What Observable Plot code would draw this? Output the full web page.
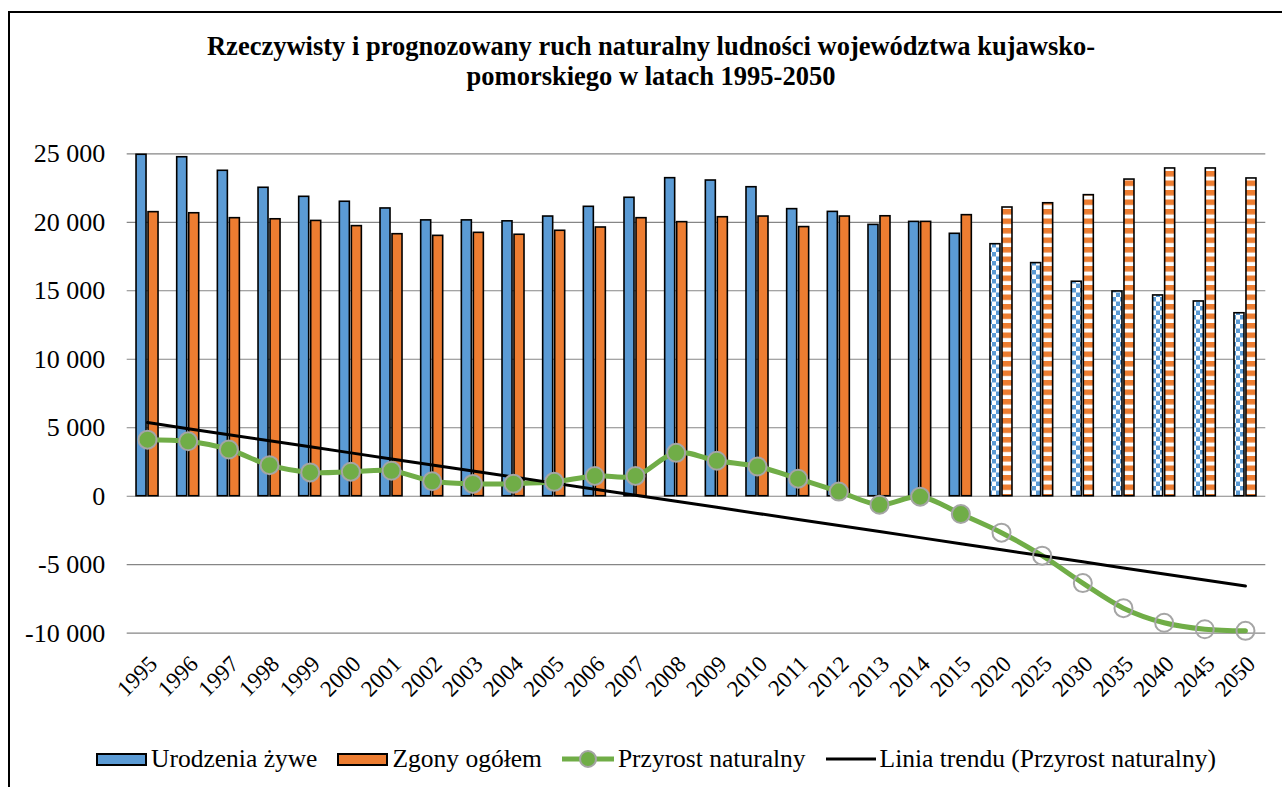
<!DOCTYPE html>
<html><head><meta charset="utf-8">
<script src="https://cdn.jsdelivr.net/npm/d3@7"></script>
<script src="https://cdn.jsdelivr.net/npm/@observablehq/plot@0.6"></script>
<style>
body{margin:0;background:#fff;font-family:"Liberation Serif","Times New Roman",serif;}
#wrap{position:relative;width:1282px;height:787px;overflow:hidden;background:#fff;}
#frame{position:absolute;left:8px;top:11px;width:1400px;height:900px;border:2px solid #000;box-sizing:border-box;}
#title{position:absolute;left:0;width:1302px;top:31px;text-align:center;font-weight:bold;font-size:26.5px;line-height:30px;color:#000;}
#chart{position:absolute;left:0;top:0;}
#legend{position:absolute;top:744px;left:0;width:1312px;display:flex;justify-content:center;align-items:center;font-size:25.5px;color:#000;}
.item{display:flex;align-items:center;margin:0 10px;}
.sw{width:51px;height:13px;border:2px solid #000;box-sizing:border-box;margin-right:4px;}
</style></head>
<body>
<div id="wrap">
  <div id="frame"></div>
  <div id="title">Rzeczywisty i prognozowany ruch naturalny ludności województwa kujawsko-<br>pomorskiego w latach 1995-2050</div>
  <div id="chart"></div>
  <div id="legend">
    <div class="item"><div class="sw" style="background:#5b9bd5"></div>Urodzenia żywe</div>
    <div class="item"><div class="sw" style="background:#ed7d31"></div>Zgony ogółem</div>
    <div class="item"><svg width="52" height="22" style="margin-right:4px"><line x1="0" y1="11" x2="52" y2="11" stroke="#70ad47" stroke-width="5"/><circle cx="26" cy="11" r="8" fill="#70ad47" stroke="#a5a5a5" stroke-width="2"/></svg>Przyrost naturalny</div>
    <div class="item"><svg width="50" height="22" style="margin-right:4px"><line x1="0" y1="11" x2="50" y2="11" stroke="#000" stroke-width="3"/></svg>Linia trendu (Przyrost naturalny)</div>
  </div>
</div>
<script>
const years = ["1995","1996","1997","1998","1999","2000","2001","2002","2003","2004","2005","2006","2007","2008","2009","2010","2011","2012","2013","2014","2015","2020","2025","2030","2035","2040","2045","2050"];
const births = [24930,24750,23760,22520,21860,21500,21010,20140,20140,20070,20420,21130,21790,23220,23050,22560,20960,20760,19810,20030,19160,18400,17020,15660,14950,14660,14220,13360];
const deaths = [20740,20660,20300,20220,20100,19720,19130,19010,19230,19090,19380,19620,20300,20010,20370,20420,19650,20420,20440,20030,20520,21080,21390,21980,23120,23930,23930,23200];
const growth = [4130,4010,3410,2270,1740,1790,1860,1090,900,920,1050,1480,1480,3170,2590,2170,1280,340,-620,-30,-1300,-2660,-4340,-6340,-8170,-9240,-9710,-9830];
const forecastYears = ["2020","2025","2030","2035","2040","2045","2050"];
const yTicks = [-10000,-5000,0,5000,10000,15000,20000,25000];
const yTickLabels = ["-10 000","-5 000","0","5 000","10 000","15 000","20 000","25 000"];

const rows = years.map((y,i)=>({year:y, i, births:births[i], deaths:deaths[i], growth:growth[i], forecast:forecastYears.includes(y)}));
const actual = rows.filter(d=>!d.forecast);
const fc = rows.filter(d=>d.forecast);

// linear trendline (least squares over category index), as Excel does
const mx = d3.mean(rows,d=>d.i), my = d3.mean(rows,d=>d.growth);
const slope = d3.sum(rows,d=>(d.i-mx)*(d.growth-my))/d3.sum(rows,d=>(d.i-mx)**2);
const icpt = my - slope*mx;
const trend = rows.map(d=>({year:d.year, v: icpt + slope*d.i}));

const W = 1282, H = 720;
const mL = 126.7, mR = 16.7, mT = 153.3, mB = H - 632.7;
const bw = (W - mL - mR)/years.length;
const blueIn = {insetLeft: bw/2 - 11, insetRight: bw/2 + 1};
const orangeIn = {insetLeft: bw/2 + 1, insetRight: bw/2 - 11};
const barStyle = {stroke:"#000", strokeWidth:1.6};

const chart = Plot.plot({
  width: W, height: H,
  marginLeft: mL, marginRight: mR, marginTop: mT, marginBottom: mB,
  style: {fontFamily: '"Liberation Serif","Times New Roman",serif', color:"#000", background:"transparent", overflow:"visible"},
  x: {type:"band", domain: years, padding: 0, round: false, label: null},
  y: {domain:[-10000,25000], label: null},
  marks: [
    Plot.ruleY(yTicks, {stroke:"#868686", strokeWidth:1.2}),
    Plot.barY(actual, {x:"year", y:"births", fill:"#5b9bd5", ...barStyle, ...blueIn}),
    Plot.barY(actual, {x:"year", y:"deaths", fill:"#ed7d31", ...barStyle, ...orangeIn}),
    Plot.barY(fc, {x:"year", y:"births", fill:"url(#blueChecker)", ...barStyle, ...blueIn}),
    Plot.barY(fc, {x:"year", y:"deaths", fill:"url(#orangeStripes)", ...barStyle, ...orangeIn}),
    Plot.line(rows, {x:"year", y:"growth", stroke:"#70ad47", strokeWidth:5, curve:"catmull-rom"}),
    Plot.line(trend, {x:"year", y:"v", stroke:"#000", strokeWidth:3}),
    Plot.dot(actual, {x:"year", y:"growth", r:9, fill:"#70ad47", stroke:"#a5a5a5", strokeWidth:2}),
    Plot.dot(fc, {x:"year", y:"growth", r:9, fill:"none", stroke:"#a5a5a5", strokeWidth:2}),
    Plot.axisY({ticks: yTicks, tickFormat: (d)=>yTickLabels[yTicks.indexOf(d)], tickSize:0, tickPadding:22, fontSize:26, label:null}),
    Plot.axisX({tickSize:0, tickRotate:-45, tickPadding:27, dx:6, fontSize:23, label:null})
  ]
});
const defs = `<defs>
<pattern id="blueChecker" patternUnits="userSpaceOnUse" width="8" height="9">
<rect width="8" height="9" fill="#fff"/><rect x="0" y="0" width="4" height="4.5" fill="#5b9bd5"/><rect x="4" y="4.5" width="4" height="4.5" fill="#5b9bd5"/>
</pattern>
<pattern id="orangeStripes" patternUnits="userSpaceOnUse" width="10" height="9.5">
<rect width="10" height="9.5" fill="#fff"/><rect x="0" y="0" width="10" height="5.5" fill="#ed7d31"/>
</pattern></defs>`;
chart.insertAdjacentHTML("afterbegin", defs);
document.getElementById("chart").appendChild(chart);
</script>
</body></html>
